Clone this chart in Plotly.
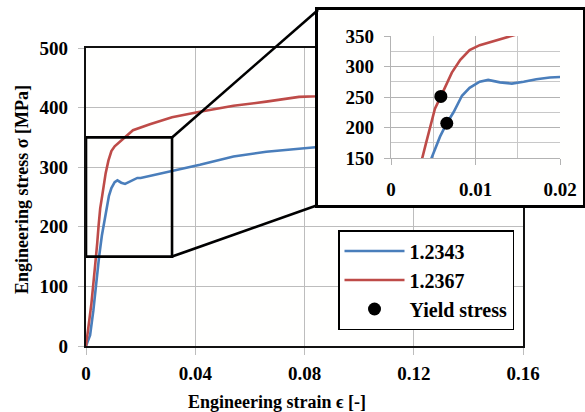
import plotly.graph_objects as go

W, H = 585, 412

# ---------------- data ----------------
series_names = ["1.2343", "1.2367"]
series_colors = ["#4a7ebb", "#be4b48"]

strain_2343 = [0, 0.0015, 0.0027, 0.0039, 0.0048, 0.0058, 0.0066, 0.0074, 0.0084, 0.0093,
               0.0105, 0.0115, 0.0129, 0.0143, 0.0157, 0.0172, 0.0188, 0.0200, 0.0220,
               0.0283, 0.0344, 0.0417, 0.0540, 0.0660, 0.0780, 0.0845, 0.0900]
stress_2343 = [0, 18, 60, 116, 150, 185, 207, 225, 252, 265,
               275, 278, 274, 272, 275, 279, 282, 282, 284,
               290, 297, 304, 318, 326, 331, 334, 336]

strain_2367 = [0, 0.0005, 0.0020, 0.0033, 0.0037, 0.0041, 0.0046, 0.0052, 0.0059, 0.0072,
               0.0082, 0.0093, 0.0105, 0.0125, 0.0143, 0.0172, 0.0234, 0.0315, 0.0417,
               0.0540, 0.0660, 0.0780, 0.0845, 0.0900]
stress_2367 = [0, 16, 72, 133, 150, 172, 201, 231, 251, 290,
               311, 327, 335, 343, 350, 362, 372, 384, 393,
               403, 410, 418, 419, 421]

yield_strain = [0.0059, 0.0066]
yield_stress = [251, 207]

main_x_ticks = [0, 0.04, 0.08, 0.12, 0.16]
main_x_labels = ["0", "0.04", "0.08", "0.12", "0.16"]
main_y_ticks = [0, 100, 200, 300, 400, 500]
inset_x_ticks = [0, 0.01, 0.02]
inset_x_labels = ["0", "0.01", "0.02"]
inset_y_ticks = [150, 200, 250, 300, 350]

main_x_range = [0, 0.16]
main_y_range = [0, 500]
inset_x_range = [0, 0.02]
inset_y_range = [150, 350]
zoom_strain = [0, 0.0315]
zoom_stress = [150, 350]

# ---------------- layout geometry ----------------
def px_x(p):
    return p / W

def px_y(p):
    return (H - p) / H

main_xd = [px_x(86), px_x(523)]
main_yd = [px_y(346), px_y(48)]
frame_xd = [px_x(318), px_x(583)]
frame_yd = [px_y(205), px_y(10)]
inset_xd = [px_x(391), px_x(560)]
inset_yd = [px_y(158), px_y(36)]

FONT = "Liberation Serif"
GRID = "#bdbdbd"

fig = go.Figure()

# main curves
for xs, ys, name, col in [(strain_2343, stress_2343, series_names[0], series_colors[0]),
                          (strain_2367, stress_2367, series_names[1], series_colors[1])]:
    fig.add_trace(go.Scatter(x=xs, y=ys, mode="lines", name=name,
                             line=dict(color=col, width=2.6), xaxis="x", yaxis="y"))

# frame subplot (white box with black border) - dummy trace
fig.add_trace(go.Scatter(x=[None], y=[None], xaxis="x2", yaxis="y2",
                         showlegend=False, hoverinfo="skip"))

# inset curves
for xs, ys, col in [(strain_2343, stress_2343, series_colors[0]),
                    (strain_2367, stress_2367, series_colors[1])]:
    fig.add_trace(go.Scatter(x=xs, y=ys, mode="lines", showlegend=False,
                             line=dict(color=col, width=2.6), xaxis="x3", yaxis="y3"))

fig.add_trace(go.Scatter(x=yield_strain, y=yield_stress, mode="markers", name="Yield stress",
                         marker=dict(color="black", size=13), xaxis="x3", yaxis="y3",
                         cliponaxis=False))

tickfont = dict(family=FONT, size=19, color="black", weight="bold")

fig.update_layout(
    width=W, height=H,
    margin=dict(l=0, r=0, t=0, b=0, autoexpand=False),
    paper_bgcolor="#ffffff",
    plot_bgcolor="#fffffe",
    showlegend=True,
    legend=dict(x=px_x(338), y=px_y(230), xanchor="left", yanchor="top",
                bordercolor="black", borderwidth=1.5, bgcolor="white",
                font=dict(family=FONT, size=20, color="black", weight="bold"),
                itemwidth=60, tracegroupgap=0),
    xaxis=dict(domain=main_xd, range=main_x_range, tickvals=main_x_ticks, ticktext=main_x_labels,
               showgrid=True, gridcolor=GRID, gridwidth=1.3, zeroline=False, automargin=False,
               showline=True, mirror=True, linecolor="#111111", linewidth=2.2,
               ticks="outside", ticklen=7, tickcolor=GRID, tickwidth=1.3,
               tickfont=tickfont, ticklabelstandoff=2, anchor="y"),
    yaxis=dict(domain=main_yd, range=main_y_range, tickvals=main_y_ticks,
               showgrid=True, gridcolor=GRID, gridwidth=1.3, zeroline=False, automargin=False,
               showline=True, mirror=True, linecolor="#111111", linewidth=2.2,
               ticks="outside", ticklen=6, tickcolor=GRID, tickwidth=1.3,
               tickfont=tickfont, ticklabelstandoff=6, anchor="x"),
    xaxis2=dict(domain=frame_xd, range=[0, 1], showgrid=False, zeroline=False, automargin=False,
                showticklabels=False, ticks="", showline=True, mirror=True,
                linecolor="black", linewidth=2.6, anchor="y2", fixedrange=True),
    yaxis2=dict(domain=frame_yd, range=[0, 1], showgrid=False, zeroline=False, automargin=False,
                showticklabels=False, ticks="", showline=True, mirror=True,
                linecolor="black", linewidth=2.6, anchor="x2", fixedrange=True),
    xaxis3=dict(domain=inset_xd, range=inset_x_range, tickvals=inset_x_ticks, ticktext=inset_x_labels,
                showgrid=True, gridcolor="#b3b3b3", gridwidth=1.3, zeroline=False, automargin=False,
                minor=dict(dtick=0.005, showgrid=True, gridcolor="#c8c8c8", gridwidth=1),
                showline=True, linecolor="#b3b3b3", linewidth=1.3,
                ticks="outside", ticklen=6, tickcolor="#b3b3b3",
                tickfont=tickfont, ticklabelstandoff=8, anchor="y3"),
    yaxis3=dict(domain=inset_yd, range=inset_y_range, tickvals=inset_y_ticks,
                showgrid=True, gridcolor="#b3b3b3", gridwidth=1.3, zeroline=False, automargin=False,
                minor=dict(dtick=25, showgrid=True, gridcolor="#c8c8c8", gridwidth=1),
                showline=True, linecolor="#b3b3b3", linewidth=1.3,
                ticks="outside", ticklen=6, tickcolor="#b3b3b3",
                tickfont=tickfont, ticklabelstandoff=6, anchor="x3"),
)

# zoom rectangle in the main plot
fig.add_shape(type="rect", xref="x", yref="y", x0=zoom_strain[0], x1=zoom_strain[1],
              y0=zoom_stress[0], y1=zoom_stress[1], line=dict(color="black", width=2.6),
              layer="above")

# connector lines (computed from the axis ranges/domains)
def data_to_paper_x(v):
    return main_xd[0] + (v - main_x_range[0]) / (main_x_range[1] - main_x_range[0]) * (main_xd[1] - main_xd[0])

def data_to_paper_y(v):
    return main_yd[0] + (v - main_y_range[0]) / (main_y_range[1] - main_y_range[0]) * (main_yd[1] - main_yd[0])

cx = data_to_paper_x(zoom_strain[1])
fig.add_shape(type="line", xref="paper", yref="paper", x0=cx, y0=data_to_paper_y(zoom_stress[1]),
              x1=frame_xd[0], y1=frame_yd[1], line=dict(color="black", width=2.6), layer="above")
fig.add_shape(type="line", xref="paper", yref="paper", x0=cx, y0=data_to_paper_y(zoom_stress[0]),
              x1=frame_xd[0], y1=frame_yd[0], line=dict(color="black", width=2.6), layer="above")

# axis titles
titlefont = dict(family=FONT, size=18, color="black", weight="bold")
fig.add_annotation(text="Engineering strain \u03f5 [-]", xref="paper", yref="paper",
                   x=px_x(277), y=px_y(402), xanchor="center", yanchor="middle",
                   showarrow=False, font=titlefont)
fig.add_annotation(text="Engineering stress \u03c3 [MPa]", xref="paper", yref="paper",
                   x=px_x(22), y=px_y(190), xanchor="center", yanchor="middle",
                   textangle=-90, showarrow=False, font=titlefont)

fig.write_html("out.html", config={"displayModeBar": False},
               post_script="document.body.style.margin='0';")
